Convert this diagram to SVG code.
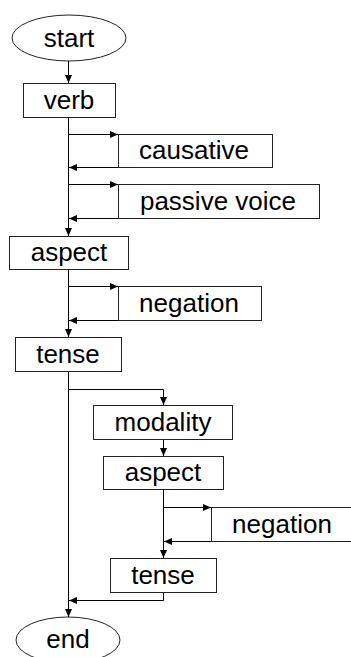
<svg xmlns="http://www.w3.org/2000/svg" width="351" height="657" viewBox="0 0 351 657">
  <defs>
    <marker id="arrow" markerUnits="userSpaceOnUse" markerWidth="9" markerHeight="8" refX="8" refY="3.5" orient="auto">
      <path d="M0,0 L8,3.5 L0,7 z" fill="#000"/>
    </marker>
  </defs>
  <style>
    .box { fill: #fff; stroke: #222; stroke-width: 1; }
    .lbl { font-family: "Liberation Sans", Arial, sans-serif; font-size: 26px; fill: #000; text-anchor: middle; }
    .edge { fill: none; stroke: #000; stroke-width: 1; marker-end: url(#arrow); }
  </style>
  <rect width="351" height="657" fill="#fff"/>

  <!-- connectors -->
  <g id="connectors">
    <path class="edge" d="M68.5,61 V83"/>
    <path class="edge" d="M68.5,117 V236"/>
    <path class="edge" d="M68.5,134.5 H118"/>
    <path class="edge" d="M118,167.5 H69"/>
    <path class="edge" d="M68.5,184.5 H118"/>
    <path class="edge" d="M118,218.5 H69"/>
    <path class="edge" d="M68.5,269 V337"/>
    <path class="edge" d="M68.5,286.5 H118"/>
    <path class="edge" d="M118,320.5 H69"/>
    <path class="edge" d="M68.5,371 V617"/>
    <path class="edge" d="M68.5,389.5 H163.5 V405"/>
    <path class="edge" d="M163.5,439 V456"/>
    <path class="edge" d="M163.5,489 V558"/>
    <path class="edge" d="M163.5,507.5 H211"/>
    <path class="edge" d="M211,541.5 H164"/>
    <path class="edge" d="M163.5,592 V600.5 H69"/>
  </g>

  <!-- nodes -->
  <g id="start">
    <ellipse class="box" cx="69" cy="38" rx="57" ry="23"/>
    <text class="lbl" x="69" y="47">start</text>
  </g>
  <g id="verb">
    <rect class="box" x="23.5" y="83.5" width="92" height="34"/>
    <text class="lbl" x="69" y="109">verb</text>
  </g>
  <g id="causative">
    <rect class="box" x="118.5" y="134.5" width="154" height="33"/>
    <text class="lbl" x="194" y="159">causative</text>
  </g>
  <g id="passive-voice">
    <rect class="box" x="118.5" y="184.5" width="201" height="34"/>
    <text class="lbl" x="218" y="210">passive voice</text>
  </g>
  <g id="aspect">
    <rect class="box" x="9.5" y="236.5" width="119" height="33"/>
    <text class="lbl" x="69" y="261">aspect</text>
  </g>
  <g id="negation">
    <rect class="box" x="118.5" y="286.5" width="143" height="34"/>
    <text class="lbl" x="189" y="312">negation</text>
  </g>
  <g id="tense">
    <rect class="box" x="15.5" y="337.5" width="106" height="34"/>
    <text class="lbl" x="68" y="363">tense</text>
  </g>
  <g id="modality">
    <rect class="box" x="93.5" y="405.5" width="139" height="34"/>
    <text class="lbl" x="163" y="431">modality</text>
  </g>
  <g id="aspect-2">
    <rect class="box" x="103.5" y="456.5" width="120" height="33"/>
    <text class="lbl" x="163" y="481">aspect</text>
  </g>
  <g id="negation-2">
    <rect class="box" x="211.5" y="507.5" width="150" height="34"/>
    <text class="lbl" x="282" y="533">negation</text>
  </g>
  <g id="tense-2">
    <rect class="box" x="110.5" y="558.5" width="106" height="34"/>
    <text class="lbl" x="163" y="584">tense</text>
  </g>
  <g id="end">
    <ellipse class="box" cx="68" cy="640" rx="52" ry="23"/>
    <text class="lbl" x="68" y="648">end</text>
  </g>
</svg>
